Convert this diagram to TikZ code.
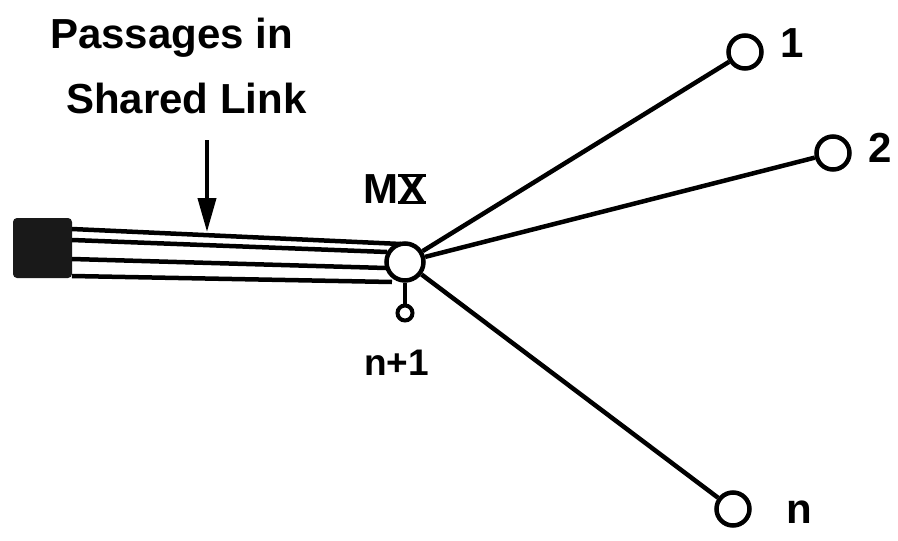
\documentclass[tikz,border=0pt]{standalone}
\usepackage{fontspec}
\setmainfont{Liberation Sans}
\usetikzlibrary{arrows.meta}
\newcommand\romanten{\setbox0\hbox{X}\rlap{\rule[-0.5pt]{\wd0}{3pt}}\rlap{\rule[\dimexpr\ht0-2.5pt\relax]{\wd0}{3pt}}\box0}
\begin{document}
\begin{tikzpicture}[x=1pt,y=-1pt,line width=4.5pt,
  lbl/.style={inner sep=0pt,font=\fontsize{42}{50}\selectfont\bfseries},
  smalllbl/.style={inner sep=0pt,font=\fontsize{37}{44}\selectfont\bfseries},
  port/.style={circle,draw,line width=4.5pt,minimum size=33pt,inner sep=0pt},
  wire/.style={line width=4.5pt}]
\useasboundingbox[fill=white] (0,0) rectangle (898,541);
% source block
\node[fill=black!90,rounded corners=4pt,minimum width=59pt,minimum height=60pt,inner sep=0pt] (blk) at (42.5,248) {};
% multiplexer
\node[circle,draw,line width=4.5pt,minimum size=37pt,inner sep=0pt] (mx) at (405,262) {};
\node[circle,draw,line width=4pt,minimum size=15pt,inner sep=0pt] (np1) at (405,313) {};
% terminals
\node[port] (t1) at (745,52) {};
\node[port] (t2) at (833,153) {};
\node[port] (tn) at (733,509) {};
% passages
\coordinate (a1) at (72,229); \coordinate (b1) at (401,244);
\coordinate (a2) at (72,240); \coordinate (b2) at (387,252);
\coordinate (a3) at (72,259); \coordinate (b3) at (386,268);
\coordinate (a4) at (72,276); \coordinate (b4) at (392,282);
\draw[wire] (a1) -- (b1);
\draw[wire] (a2) -- (b2);
\draw[wire] (a3) -- (b3);
\draw[wire] (a4) -- (b4);
% links
\draw[wire] (mx) -- (t1);
\draw[wire] (mx) -- (t2);
\draw[wire] (mx) -- (tn);
\draw[wire] (mx.south) -- (np1.north);
% labels
\node[lbl,anchor=base west] (p1) at (48,48) {Passages in};
\node[lbl,anchor=base west] (p2) at (64,113) {Shared Link};
\coordinate (arrS) at (207,140);
\coordinate (arrE) at (207,232);
\draw[line width=4pt,-{Triangle[width=18pt,length=34pt]}] (arrS) -- (arrE);
\node[lbl,anchor=base west] (mxl) at (361,203) {M\romanten};
\node[smalllbl,anchor=base west] (np1l) at (362,375) {n+1};
\node[lbl,anchor=base west] (l1) at (778,57) {1};
\node[lbl,anchor=base west] (l2) at (866,162) {2};
\node[lbl,anchor=base west] (ln) at (784,523) {n};
\end{tikzpicture}
\end{document}
